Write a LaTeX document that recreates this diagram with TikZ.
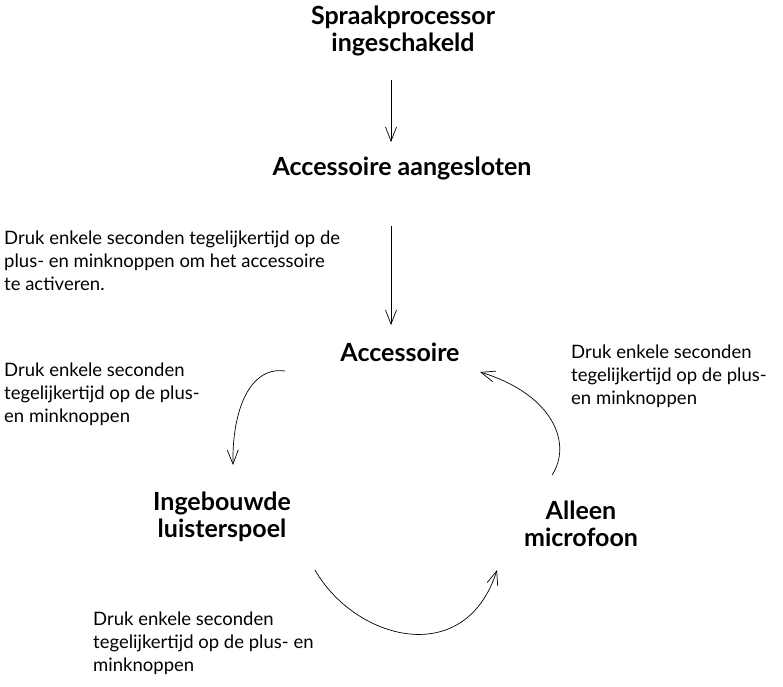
\documentclass[tikz,border=0pt]{standalone}
\usepackage{fontspec}
\setmainfont{Lato}
\usetikzlibrary{arrows.meta}

\tikzset{
	state/.style={font=\fontsize{25}{27}\selectfont\bfseries, align=center, inner sep=0pt},
	hint/.style={font=\fontsize{18.5}{23}\selectfont, align=left, inner sep=0pt, anchor=north west},
	arr/.style={-{Straight Barb[length=14pt,width=11pt]}, line width=0.7pt}
}

\begin{document}
\begin{tikzpicture}[x=1pt, y=-1pt]
	\useasboundingbox (0, 0) rectangle (783, 686);

	\node[state] (spraak) at (403, 31) {Spraakprocessor\\ingeschakeld};
	\node[state] (aang) at (402, 168) {Accessoire aangesloten};
	\node[state] (acc) at (400, 352) {Accessoire};
	\node[state] (spoel) at (222, 517) {Ingebouwde\\luisterspoel};
	\node[state] (micro) at (581, 524) {Alleen\\microfoon};

	\node[hint] (t1) at (4, 231) {Druk enkele seconden tegelijkertijd op de\\plus- en minknoppen om het accessoire\\te activeren.};
	\node[hint] (t2) at (571, 345) {Druk enkele seconden\\tegelijkertijd op de plus-\\en minknoppen};
	\node[hint] (t3) at (4, 363) {Druk enkele seconden\\tegelijkertijd op de plus-\\en minknoppen};
	\node[hint] (t4) at (93, 612) {Druk enkele seconden\\tegelijkertijd op de plus- en\\minknoppen};

	% free ends of the connectors
	\coordinate (a1) at (391, 80);
	\coordinate (b1) at (391, 142);
	\coordinate (a2) at (391, 226);
	\coordinate (b2) at (391, 325);
	\coordinate (a3) at (285, 371);
	\coordinate (b3) at (233, 465);
	\coordinate (a4) at (552, 475);
	\coordinate (b4) at (480, 372);
	\coordinate (a5) at (315, 570);
	\coordinate (b5) at (497, 570);

	\draw[arr] (a1) -- (b1);
	\draw[arr] (a2) -- (b2);
	\draw[arr] (a3) .. controls (250, 366) and (232, 410) .. (b3);
	\draw[arr] (a4) .. controls (572, 445) and (555, 395) .. (b4);
	\draw[arr] (a5) .. controls (355, 640) and (465, 670) .. (b5);

\end{tikzpicture}
\end{document}
